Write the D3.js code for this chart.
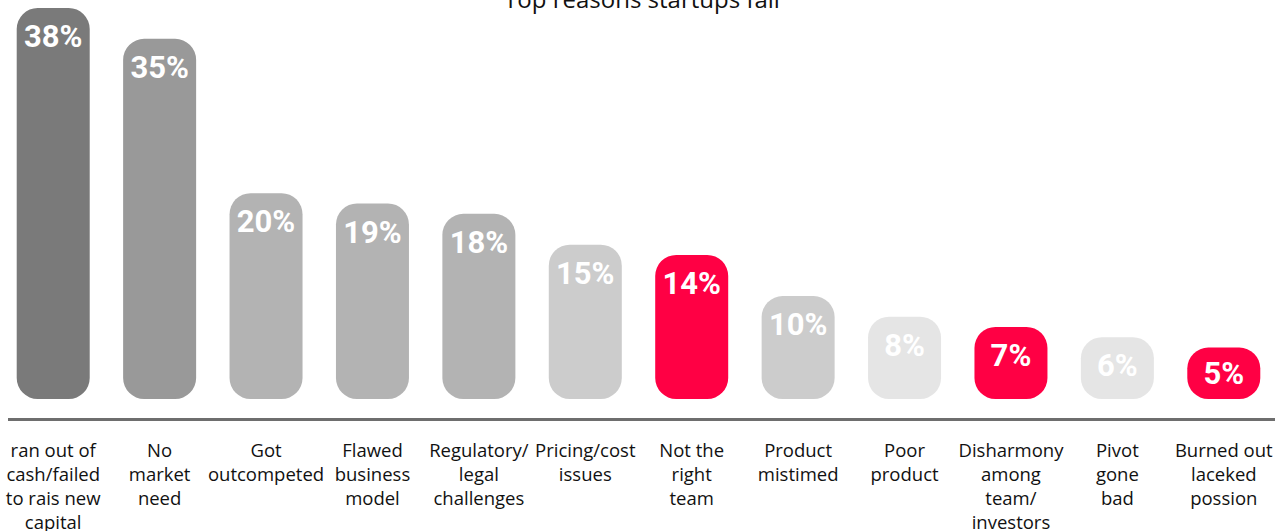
<!DOCTYPE html>
<html>
<head>
<meta charset="utf-8">
<script src="https://cdn.jsdelivr.net/npm/d3@7"></script>
<style>
  html, body { margin: 0; padding: 0; background: #ffffff; overflow: hidden; }
  svg { display: block; }
</style>
</head>
<body>
<svg id="chart" width="1285" height="531"></svg>
<script>
const title = "Top reasons startups fail";
const categories = [
  ["ran out of", "cash/failed", "to rais new", "capital"],
  ["No", "market", "need"],
  ["Got", "outcompeted"],
  ["Flawed", "business", "model"],
  ["Regulatory/", "legal", "challenges"],
  ["Pricing/cost", "issues"],
  ["Not the", "right", "team"],
  ["Product", "mistimed"],
  ["Poor", "product"],
  ["Disharmony", "among", "team/", "investors"],
  ["Pivot", "gone", "bad"],
  ["Burned out", "laceked", "possion"]
];
const values = [38, 35, 20, 19, 18, 15, 14, 10, 8, 7, 6, 5];
const valueLabels = ["38%", "35%", "20%", "19%", "18%", "15%", "14%", "10%", "8%", "7%", "6%", "5%"];
const barColors = ["#7a7a7a", "#999999", "#b3b3b3", "#b3b3b3", "#b3b3b3", "#cccccc",
                   "#ff0044", "#cccccc", "#e5e5e5", "#ff0044", "#e5e5e5", "#ff0044"];

const svg = d3.select("#chart");
const idx = d3.range(values.length);

const x = d3.scaleBand().domain(idx).range([0, 1277]).paddingInner(0.314).paddingOuter(0.157);
const y = d3.scaleLinear().domain([0, 38]).range([399, 8]);

// title (partially cut off at the top, as in the reference)
svg.append("text")
  .attr("x", 642).attr("y", 8)
  .attr("text-anchor", "middle")
  .attr("font-family", "'Open Sans', sans-serif")
  .attr("font-size", 24)
  .attr("fill", "#111")
  .text(title);

function roundedBar(x0, y0, w, h) {
  const r = Math.min(21, h / 2, w / 2);
  const p = d3.path();
  p.moveTo(x0 + r, y0);
  p.lineTo(x0 + w - r, y0);
  p.arcTo(x0 + w, y0, x0 + w, y0 + r, r);
  p.lineTo(x0 + w, y0 + h - r);
  p.arcTo(x0 + w, y0 + h, x0 + w - r, y0 + h, r);
  p.lineTo(x0 + r, y0 + h);
  p.arcTo(x0, y0 + h, x0, y0 + h - r, r);
  p.lineTo(x0, y0 + r);
  p.arcTo(x0, y0, x0 + r, y0, r);
  p.closePath();
  return p.toString();
}

const g = svg.append("g");
g.selectAll("path.bar").data(idx).join("path")
  .attr("class", "bar")
  .attr("fill", i => barColors[i])
  .attr("d", i => roundedBar(x(i), y(values[i]), x.bandwidth(), y(0) - y(values[i])));

g.selectAll("text.val").data(idx).join("text")
  .attr("class", "val")
  .attr("x", i => x(i) + x.bandwidth() / 2)
  .attr("y", i => {
    const h = y(0) - y(values[i]);
    return y(values[i]) + Math.min(39, h / 2 + 11);
  })
  .attr("text-anchor", "middle")
  .attr("font-family", "Roboto, sans-serif")
  .attr("font-weight", "bold")
  .attr("font-size", 31)
  .attr("fill", "#ffffff")
  .text(i => valueLabels[i]);

// axis line
svg.append("line")
  .attr("x1", 8).attr("x2", 1275)
  .attr("y1", 419.5).attr("y2", 419.5)
  .attr("stroke", "#6e6e6e").attr("stroke-width", 3);

// category labels
const cl = svg.selectAll("text.cat").data(idx).join("text")
  .attr("class", "cat")
  .attr("text-anchor", "middle")
  .attr("font-family", "'Open Sans', sans-serif")
  .attr("font-size", 18.5)
  .attr("fill", "#111");
cl.each(function(i) {
  const t = d3.select(this);
  categories[i].forEach((line, k) => {
    t.append("tspan")
      .attr("x", x(i) + x.bandwidth() / 2)
      .attr("y", 457 + k * 24)
      .text(line);
  });
});
</script>
</body>
</html>
